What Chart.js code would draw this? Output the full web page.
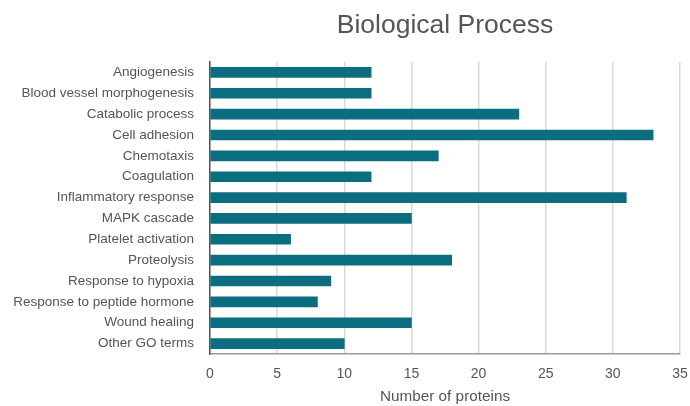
<!DOCTYPE html>
<html><head><meta charset="utf-8">
<script src="https://cdn.jsdelivr.net/npm/chart.js@4/dist/chart.umd.min.js"></script>
<style>html,body{margin:0;padding:0;background:#fff}#w{width:690px;height:406px}</style>
</head><body><div id="w"><canvas id="c"></canvas></div>
<script>
const categories = ["Angiogenesis","Blood vessel morphogenesis","Catabolic process","Cell adhesion","Chemotaxis","Coagulation","Inflammatory response","MAPK cascade","Platelet activation","Proteolysis","Response to hypoxia","Response to peptide hormone","Wound healing","Other GO terms"];
const proteinCounts = [12,12,23,33,17,12,31,15,6,18,9,8,15,10];
const xTicks = [0,5,10,15,20,25,30,35];
const chartTitle = 'Biological Process';

const FONT = "'Liberation Sans', Arial, sans-serif";
const titlePlugin = {
  id: 'areaTitle',
  afterDraw(chart) {
    const ctx = chart.ctx, a = chart.chartArea;
    ctx.save();
    ctx.fillStyle = '#555';
    ctx.font = "26.5px " + FONT;
    ctx.textAlign = 'center';
    ctx.textBaseline = 'middle';
    ctx.fillText(chartTitle, (a.left + a.right) / 2, 26);
    ctx.restore();
  }
};
new Chart(document.getElementById('c'), {
  type: 'bar',
  data: { labels: categories, datasets: [{ data: proteinCounts, backgroundColor: '#0b6e80', barThickness: 10 }] },
  options: {
    indexAxis: 'y', responsive: true, maintainAspectRatio: false, animation: false,
    layout: { padding: { left: 8, right: 10, top: 62, bottom: 0 } },
    plugins: { legend: { display: false }, tooltip: { enabled: false } },
    scales: {
      x: {
        min: 0, max: 35,
        afterBuildTicks: s => { s.ticks = xTicks.map(v => ({ value: v })); },
        ticks: { color: '#555', font: { family: FONT, size: 14 }, padding: 12, maxRotation: 0 },
        grid: { color: '#d9d9d9', lineWidth: 1.5, drawTicks: false },
        border: { display: true, color: '#999', width: 1.5 },
        title: { display: true, text: 'Number of proteins', color: '#555', font: { family: FONT, size: 15.3 }, padding: { top: 6, bottom: 0 } },
        afterFit: s => { s.height = 52; s.paddingLeft = 0; s.paddingRight = 0; }
      },
      y: {
        ticks: { color: '#555', font: { family: FONT, size: 13.5 }, padding: 16 },
        grid: { display: false, drawTicks: false },
        border: { display: true, color: '#555', width: 1.5 },
        afterFit: s => { s.width = 202; s.paddingTop = 0; s.paddingBottom = 0; }
      }
    }
  },
  plugins: [titlePlugin]
});
</script></body></html>
